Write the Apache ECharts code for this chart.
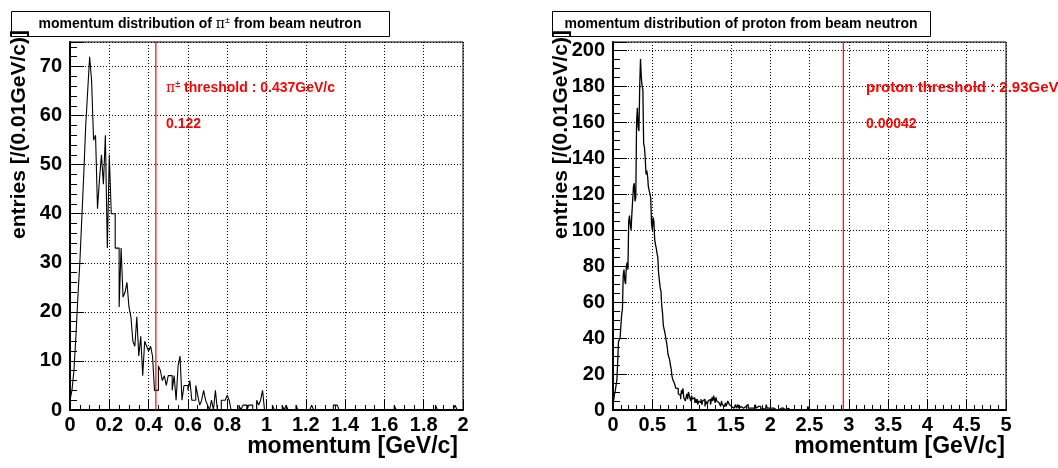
<!DOCTYPE html>
<html>
<head>
<meta charset="utf-8">
<script src="https://cdn.jsdelivr.net/npm/echarts@6/dist/echarts.min.js"></script>
<style>
html,body{margin:0;padding:0;background:#fff;}
#chart{width:1058px;height:468px;}
</style>
</head>
<body>
<div id="chart"></div>
<script>
// ---------------- data ----------------
const binWidth = 0.01; // GeV/c

// pi+- momentum histogram, 200 bins 0..2 GeV/c
const pionCounts = [
  2,4,8,15,23,30,39,48,58,65,
  72,67,55,56,41,47,52,46,56,33,
  52,40,40,33,33,21,33,23,24,26,
  21,19,14,13,19,11,15,7,14,13,
  12,13,11,4,4,9,8,6,7,5,
  7,7,4,7,2,9,11,2,5,5,
  4,6,2,2,5,3,1,2,4,2,
  1,0,2,0,4,0,0,2,2,2,
  3,2,0,0,0,0,1,0,1,1,
  0,1,1,0,0,2,1,2,4,0,
  0,0,0,1,0,0,0,0,1,0,
  1,0,0,0,0,1,0,0,0,0,
  0,0,0,1,0,0,0,0,0,0,
  0,0,0,0,1,1,1,0,0,0,
  0,0,0,0,0,0,0,0,0,0,
  0,0,0,0,0,0,0,0,0,0,
  0,0,0,0,0,1,0,0,0,0,
  0,0,0,0,0,0,0,0,0,0,
  0,0,0,0,0,0,1,0,0,0,
  0,0,0,0,0,0,1,0,0,0
];

// proton momentum histogram, 500 bins 0..5 GeV/c
const protonCounts = [
  3,6,9,11,12,17,16,38,39,40,
  41,53,56,75,78,72,70,80,82,78,
  105,108,103,100,109,110,124,126,116,118,
  160,168,157,155,180,195,185,180,178,148,
  146,140,131,133,130,124,122,121,118,104,
  100,107,105,95,92,90,87,85,76,72,
  68,66,58,54,47,45,43,42,38,35,
  31,30,28,25,23,19,17,16,15,14,
  12,11,12,9,10,8,6,11,9,12,
  7,8,5,7,9,6,10,8,7,5,
  8,6,5,7,4,6,4,6,3,5,
  5,4,6,3,5,4,6,2,5,4,
  3,5,4,6,3,4,7,5,8,6,
  4,7,5,6,4,3,4,2,5,3,
  4,2,3,4,2,3,5,6,3,4,
  2,2,3,1,2,2,3,1,2,3,
  1,1,2,1,3,1,2,0,2,1,
  1,3,1,2,1,0,2,1,2,1,
  1,3,1,0,2,1,1,2,0,1,
  1,2,1,0,1,3,1,1,1,0,
  1,1,0,2,1,0,1,0,1,1,
  0,1,0,1,2,0,1,0,1,0,
  0,0,1,0,0,0,1,0,0,1,
  0,0,0,1,0,0,1,0,0,0,
  0,1,0,0,0,1,0,0,2,0,
  0,0,0,0,0,1,0,0,0,0,
  0,0,1,0,0,0,0,0,0,0,
  0,0,0,0,0,0,0,0,0,0,
  0,0,0,0,0,0,0,0,0,0,
  0,0,0,0,0,0,0,0,0,0,
  0,0,0,0,0,0,0,0,0,0,
  0,0,0,0,0,0,0,0,0,0,
  0,0,0,0,0,0,0,0,0,0,
  0,0,0,0,0,0,0,0,0,0,
  0,0,0,0,0,0,0,0,0,0,
  0,0,0,0,0,0,0,0,0,0,
  0,0,0,0,0,0,0,0,0,0,
  0,0,0,0,0,0,0,0,0,0,
  0,0,0,0,0,0,0,0,0,0,
  0,0,0,0,0,0,0,0,0,0,
  0,0,0,0,0,0,0,0,0,0,
  0,0,0,0,0,0,0,0,0,0,
  0,0,0,0,0,0,0,0,0,0,
  0,0,0,0,0,0,0,0,0,0,
  0,0,0,0,0,0,0,0,0,0,
  0,0,0,0,0,0,0,0,0,0,
  0,0,0,0,0,0,0,0,0,0,
  0,0,0,0,0,0,0,0,0,0,
  0,0,0,0,0,0,0,0,0,0,
  0,0,0,0,0,0,0,0,0,0
];

const pionThreshold = 0.437;
const protonThreshold = 2.93;
const pionFraction = '0.122';
const protonFraction = '0.00042';

const pionYMax = 75;
const protonYMax = 204.5;

const pionTitle = 'momentum distribution of ';
const protonTitle = 'momentum distribution of proton from beam neutron';
const xTitle = 'momentum [GeV/c]';
const yTitle = 'entries [/(0.01GeV/c)]';

// ---------------- build ----------------
function histPoints(counts) {
  const pts = [[0, 0]];
  counts.forEach((v, i) => {
    pts.push([+(i * binWidth).toFixed(4), v]);
    pts.push([+((i + 1) * binWidth).toFixed(4), v]);
  });
  pts.push([+(counts.length * binWidth).toFixed(4), 0]);
  return pts;
}

const FONT = '"Liberation Sans", Arial, Helvetica, sans-serif';
const BLACK = '#000';
const RED = '#ff0000';

function xAxisCfg(idx, max, interval, minorSplit) {
  return {
    type: 'value', gridIndex: idx, min: 0, max: max, interval: interval,
    axisLine: { show: true, onZero: false, lineStyle: { color: BLACK, width: 2 } },
    axisTick: { show: true, inside: true, length: 10, lineStyle: { color: BLACK, width: 1 } },
    minorTick: { show: true, splitNumber: minorSplit, length: 5, lineStyle: { color: BLACK, width: 1 } },
    axisLabel: { color: BLACK, fontFamily: FONT, fontWeight: 'bold', fontSize: 20, margin: 5,
                 showMinLabel: true, showMaxLabel: true },
    splitLine: { show: true, lineStyle: { color: BLACK, width: 1, type: [1, 2] } }
  };
}
function yAxisCfg(idx, max, interval, minorSplit) {
  return {
    type: 'value', gridIndex: idx, min: 0, max: max, interval: interval,
    axisLine: { show: true, onZero: false, lineStyle: { color: BLACK, width: 2 } },
    axisTick: { show: true, inside: true, length: 14, lineStyle: { color: BLACK, width: 1 } },
    minorTick: { show: true, splitNumber: minorSplit, length: 7, lineStyle: { color: BLACK, width: 1 } },
    axisLabel: { color: BLACK, fontFamily: FONT, fontWeight: 'bold', fontSize: 20, margin: 8,
                 showMinLabel: true, showMaxLabel: false },
    splitLine: { show: true, lineStyle: { color: BLACK, width: 1, type: [1, 2] } }
  };
}
function histSeries(idx, counts, w) {
  return {
    type: 'line', xAxisIndex: idx, yAxisIndex: idx,
    symbol: 'none', animation: false, silent: true,
    lineStyle: { color: BLACK, width: w },
    itemStyle: { color: BLACK },
    data: histPoints(counts),
    z: 3
  };
}
function thresholdSeries(idx, threshold, ymax) {
  return {
    type: 'line', xAxisIndex: idx, yAxisIndex: idx,
    symbol: 'none', animation: false, silent: true,
    lineStyle: { color: RED, width: 1.2 },
    itemStyle: { color: RED },
    data: [[threshold, 0], [threshold, ymax]],
    z: 4
  };
}
function titleBox(x, w, text, rich) {
  return {
    type: 'group', children: [
      { type: 'rect', shape: { x: x + 0.5, y: 11.5, width: w, height: 25 },
        style: { fill: '#fff', stroke: BLACK, lineWidth: 1 } },
      { type: 'text', x: x + w / 2, y: 24,
        style: { text: text, rich: rich, fill: BLACK, font: 'bold 14px ' + FONT,
                 align: 'center', verticalAlign: 'middle' } }
    ]
  };
}
const piRich = {
  b: { fontFamily: FONT, fontWeight: 'bold', fontSize: 14, fill: BLACK },
  pi: { fontFamily: '"DejaVu Serif", serif', fontSize: 14, fill: BLACK },
  sup: { fontFamily: FONT, fontSize: 9, fill: BLACK, padding: [0, 0, 6, 0] }
};
const redRich = {
  pi: { fontFamily: '"DejaVu Serif", serif', fontSize: 14, fill: RED },
  sup: { fontFamily: FONT, fontSize: 9, fill: RED, fontWeight: 'bold', padding: [0, 0, 6, 0] },
  b: { fontFamily: FONT, fontWeight: 'bold', fontSize: 14, fill: RED }
};

const chart = echarts.init(document.getElementById('chart'), null, { renderer: 'canvas' });
chart.setOption({
  backgroundColor: '#fff',
  animation: false,
  grid: [
    { left: 70, right: 595, top: 42, bottom: 58, show: true, borderColor: BLACK, borderWidth: 1, backgroundColor: 'transparent' },
    { left: 613, right: 52, top: 42, bottom: 58, show: true, borderColor: BLACK, borderWidth: 1, backgroundColor: 'transparent' }
  ],
  xAxis: [xAxisCfg(0, 2, 0.2, 4), xAxisCfg(1, 5, 0.5, 5)],
  yAxis: [yAxisCfg(0, pionYMax, 10, 5), yAxisCfg(1, protonYMax, 20, 4)],
  series: [
    histSeries(0, pionCounts, 1.1),
    histSeries(1, protonCounts, 1.3),
    thresholdSeries(0, pionThreshold, pionYMax),
    thresholdSeries(1, protonThreshold, protonYMax)
  ],
  graphic: [
    titleBox(11, 378, '{b|' + pionTitle + '}{pi|π}{sup|±}{b| from beam neutron}', piRich),
    titleBox(552, 378, protonTitle, null),
    { type: 'text', x: 166, y: 88, z: 10,
      style: { text: '{pi|π}{sup|±}{b| threshold : ' + pionThreshold + 'GeV/c}', rich: redRich,
               fill: RED, font: 'bold 14px ' + FONT, verticalAlign: 'middle' } },
    { type: 'text', x: 166, y: 124, z: 10,
      style: { text: pionFraction, fill: RED, font: 'bold 14px ' + FONT, verticalAlign: 'middle' } },
    { type: 'text', x: 866, y: 88, z: 10,
      style: { text: 'proton threshold : ' + protonThreshold + 'GeV/c', fill: RED, font: 'bold 15px ' + FONT, verticalAlign: 'middle' } },
    { type: 'text', x: 866, y: 124, z: 10,
      style: { text: protonFraction, fill: RED, font: 'bold 14px ' + FONT, verticalAlign: 'middle' } },
    { type: 'text', x: 458, y: 447,
      style: { text: xTitle, fill: BLACK, font: 'bold 23px ' + FONT, align: 'right', verticalAlign: 'middle' } },
    { type: 'text', x: 1005, y: 447,
      style: { text: xTitle, fill: BLACK, font: 'bold 23px ' + FONT, align: 'right', verticalAlign: 'middle' } },
    { type: 'text', x: 19, y: 30, rotation: Math.PI / 2,
      style: { text: yTitle, fill: BLACK, font: 'bold 21px ' + FONT, align: 'right', verticalAlign: 'middle' } },
    { type: 'text', x: 561, y: 30, rotation: Math.PI / 2,
      style: { text: yTitle, fill: BLACK, font: 'bold 21px ' + FONT, align: 'right', verticalAlign: 'middle' } }
  ]
});
</script>
</body>
</html>
